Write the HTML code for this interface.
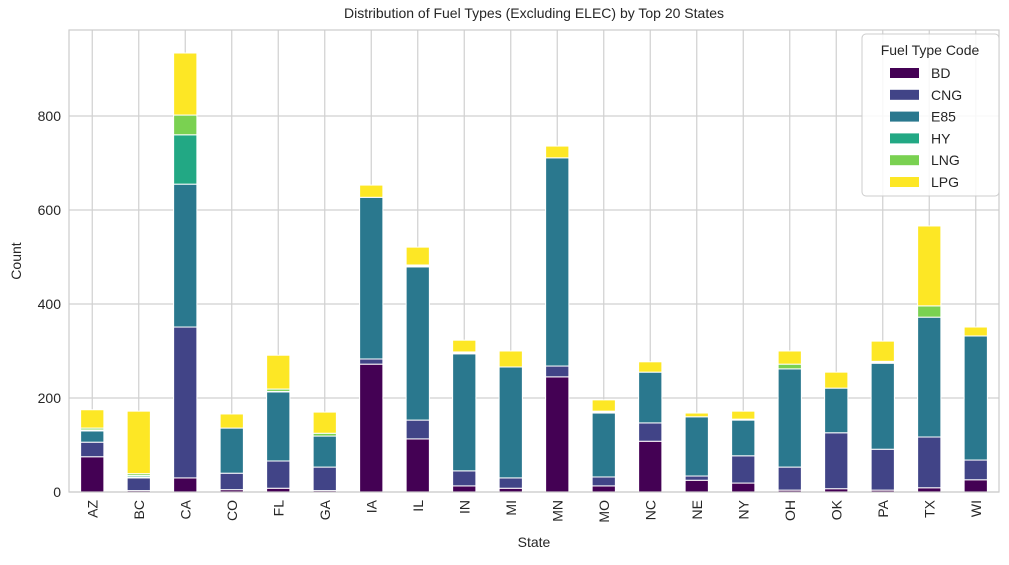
<!DOCTYPE html>
<html><head><meta charset="utf-8"><style>
body{margin:0;background:#fff;font-family:"Liberation Sans","DejaVu Sans",sans-serif;}
svg text{font-family:"Liberation Sans","DejaVu Sans",sans-serif;fill:#262626;}
</style></head><body>
<svg id="chart" width="1009" height="560" viewBox="0 0 1009 560" xmlns="http://www.w3.org/2000/svg">
<rect width="1009" height="560" fill="#fff"/>
<text x="534" y="18" font-size="14" text-anchor="middle">Distribution of Fuel Types (Excluding ELEC) by Top 20 States</text>
<g id="grid"></g>
<g id="bars"></g>
<rect x="69" y="30" width="930" height="462" fill="none" stroke="#ccc" stroke-width="1.2"/>
<g id="axes"></g>
<text x="534" y="547" font-size="14" text-anchor="middle">State</text>
<text x="21" y="261" font-size="14" text-anchor="middle" transform="rotate(-90 21 261)">Count</text>
<g id="legend"></g>
</svg>
<script>
const states=["AZ","BC","CA","CO","FL","GA","IA","IL","IN","MI","MN","MO","NC","NE","NY","OH","OK","PA","TX","WI"];
const seriesNames=["BD","CNG","E85","HY","LNG","LPG"];
const colors=["#440154","#414487","#2a788e","#22a884","#7ad151","#fde725"];
const BD =[75,3,30,5,8,3,272,113,13,8,245,13,108,25,19,4,7,4,9,26];
const CNG=[31,27,321,35,58,50,11,40,32,22,23,19,39,9,58,49,119,87,108,42];
const E85=[24,2,304,96,147,66,344,326,249,236,443,136,108,126,76,209,95,183,255,264];
const HY =[2,3,105,0,1,0,0,2,2,0,0,2,0,0,1,0,0,2,0,0];
const LNG=[4,4,42,0,5,6,0,2,2,0,0,2,0,0,1,10,0,2,24,0];
const LPG=[39,133,132,30,72,45,26,38,25,34,25,24,22,8,17,28,34,43,170,19];
const yTicks=[0,200,400,600,800];
const series=[BD,CNG,E85,HY,LNG,LPG];
const NS="http://www.w3.org/2000/svg";
const L=69,R=999,T=30,B=492;
function y(v){return B-v*0.47;}
const step=(R-L)/states.length;
function xc(i){return L+(i+0.5)*step;}
function mk(tag,attrs,parent){const e=document.createElementNS(NS,tag);for(const k in attrs)e.setAttribute(k,attrs[k]);parent.appendChild(e);return e;}
const grid=document.getElementById('grid'),bars=document.getElementById('bars'),axes=document.getElementById('axes'),leg=document.getElementById('legend');
yTicks.forEach(t=>{
  const ln=mk('line',{x1:L,x2:R,y1:y(t),y2:y(t),stroke:'#d0d0d0','stroke-width':1.2},grid);
  
  
  const tx=mk('text',{x:L-8,y:y(t)+5,'font-size':14,'text-anchor':'end'},axes);
  tx.textContent=t;
  
  
});
states.forEach((s,i)=>{
  const ln=mk('line',{x1:xc(i),x2:xc(i),y1:T,y2:B,stroke:'#d0d0d0','stroke-width':1.2},grid);
  
  
  const tx=mk('text',{x:0,y:0,'font-size':14,'text-anchor':'end',transform:`translate(${xc(i)+5},${B+8}) rotate(-90)`},axes);
  tx.textContent=s;
  
  
  let cum=0;
  series.forEach((arr,k)=>{
    const v=arr[i];
    if(v>0){
      const r=mk('rect',{x:xc(i)-step*0.25,width:step*0.5,y:y(cum+v),height:v*0.47,fill:colors[k],stroke:'#fff','stroke-width':1},bars);
      
      
    }
    cum+=v;
  });
});
const box=mk('rect',{x:862,y:34,width:137,height:162,rx:4,fill:'#fff','fill-opacity':0.85,stroke:'#ccc'},leg);


const lt=mk('text',{x:930,y:55,'font-size':14,'text-anchor':'middle'},leg);
lt.textContent='Fuel Type Code';


seriesNames.forEach((n,k)=>{
  const yy=73+k*21.8;
  const g=mk('g',{},leg);
  
  
  mk('rect',{x:890,y:yy-5,width:29,height:10,fill:colors[k]},g);
  const t=mk('text',{x:931,y:yy+5,'font-size':14},g);
  t.textContent=n;
});
</script>
</body></html>
